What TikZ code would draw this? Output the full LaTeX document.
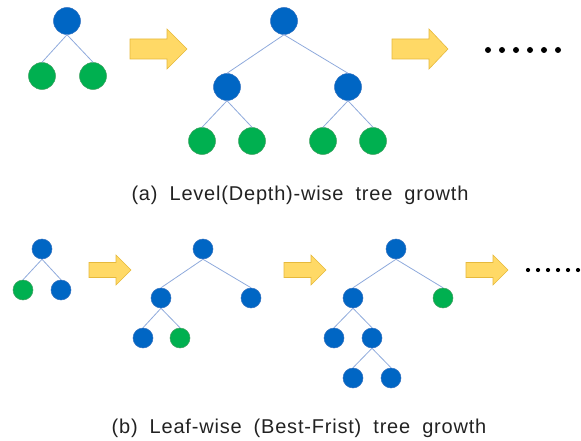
\documentclass[tikz,border=0pt]{standalone}
\usepackage{fontspec}
\setmainfont{Liberation Sans}
\newfontfamily\capfont[LetterSpace=4]{Liberation Sans}
\definecolor{nblue}{HTML}{0066C4}
\definecolor{nblueb}{HTML}{2F6FC0}
\definecolor{ngreen}{HTML}{00B050}
\definecolor{ngreenb}{HTML}{3FA060}
\definecolor{edgec}{HTML}{8FAADC}
\definecolor{arrf}{HTML}{FFD966}
\definecolor{arrd}{HTML}{E6B93C}
\definecolor{txt}{HTML}{222222}
\tikzset{
  bn/.style={circle,fill=nblue,draw=nblueb,line width=0.5pt,inner sep=0pt,minimum size=#1},
  gn/.style={circle,fill=ngreen,draw=ngreenb,line width=0.5pt,inner sep=0pt,minimum size=#1},
  ed/.style={draw=edgec,line width=0.8pt},
  fat/.style={fill=arrf,draw=arrd,line width=0.6pt,line join=miter},
  dotc/.style={circle,fill=black,inner sep=0pt,minimum size=#1},
  captext/.style={font=\capfont\fontsize{20}{24}\selectfont,text=txt,inner sep=0pt}
}
\newcommand{\fatarrow}[5]{% x0 x1 xhead ycenter halfheadheight
  \path[fat] (#1,#4-#5/2) -- (#3,#4-#5/2) -- (#3,#4-#5) -- (#2,#4) -- (#3,#4+#5) -- (#3,#4+#5/2) -- (#1,#4+#5/2) -- cycle;}
\newcommand{\gap}{\hspace{0.6em}}
\newcommand{\tedge}[2]{\draw[ed] (#1.south) -- (#2.north);}
\begin{document}
\begin{tikzpicture}[x=1pt,y=-1pt]
\useasboundingbox (0,0) rectangle (581,441);
% ---- (a) ----
\node[bn=27pt] (a1r) at (67,21) {};
\node[gn=27pt] (a1l) at (42,76) {};
\node[gn=27pt] (a1rr) at (93,76) {};
\tedge{a1r}{a1l} \tedge{a1r}{a1rr}
\fatarrow{130}{187}{167}{49}{20}
\node[bn=27pt] (a2r) at (284,21) {};
\node[bn=27pt] (a2a) at (227,87) {};
\node[bn=27pt] (a2b) at (348,87) {};
\node[gn=27pt] (a2c) at (202,141) {};
\node[gn=27pt] (a2d) at (252,141) {};
\node[gn=27pt] (a2e) at (323,141) {};
\node[gn=27pt] (a2f) at (373,141) {};
\tedge{a2r}{a2a} \tedge{a2r}{a2b}
\tedge{a2a}{a2c} \tedge{a2a}{a2d}
\tedge{a2b}{a2e} \tedge{a2b}{a2f}
\fatarrow{392}{448}{429}{49}{20}
\foreach \i in {0,...,5} \node[dotc=6pt] (ad\i) at (488+14*\i,50) {};
\node[captext] (capa) at (300,195) {(a)\gap Level(Depth)-wise\gap tree\gap growth};
% ---- (b) ----
\node[bn=20pt] (b1r) at (42,249) {};
\node[gn=20pt] (b1l) at (23,290) {};
\node[bn=20pt] (b1rr) at (61,290) {};
\tedge{b1r}{b1l} \tedge{b1r}{b1rr}
\fatarrow{89}{131}{116}{270}{15}
\node[bn=20pt] (b2r) at (203,249) {};
\node[bn=20pt] (b2a) at (161,298) {};
\node[bn=20pt] (b2b) at (251,298) {};
\node[bn=20pt] (b2c) at (143,338) {};
\node[gn=20pt] (b2d) at (180,338) {};
\tedge{b2r}{b2a} \tedge{b2r}{b2b}
\tedge{b2a}{b2c} \tedge{b2a}{b2d}
\fatarrow{284}{326}{311}{270}{15}
\node[bn=20pt] (b3r) at (396,249) {};
\node[bn=20pt] (b3a) at (353,298) {};
\node[gn=20pt] (b3b) at (443,298) {};
\node[bn=20pt] (b3c) at (334,338) {};
\node[bn=20pt] (b3d) at (372,338) {};
\node[bn=20pt] (b3e) at (353,378) {};
\node[bn=20pt] (b3f) at (391,378) {};
\tedge{b3r}{b3a} \tedge{b3r}{b3b}
\tedge{b3a}{b3c} \tedge{b3a}{b3d}
\tedge{b3d}{b3e} \tedge{b3d}{b3f}
\fatarrow{466}{508}{493}{270}{15}
\foreach \i in {0,...,5} \node[dotc=4.2pt] (bd\i) at (528+10*\i,270) {};
\node[captext] (capb) at (299,428) {(b)\gap Leaf-wise\gap (Best-Frist)\gap tree\gap growth};
\end{tikzpicture}
\end{document}
